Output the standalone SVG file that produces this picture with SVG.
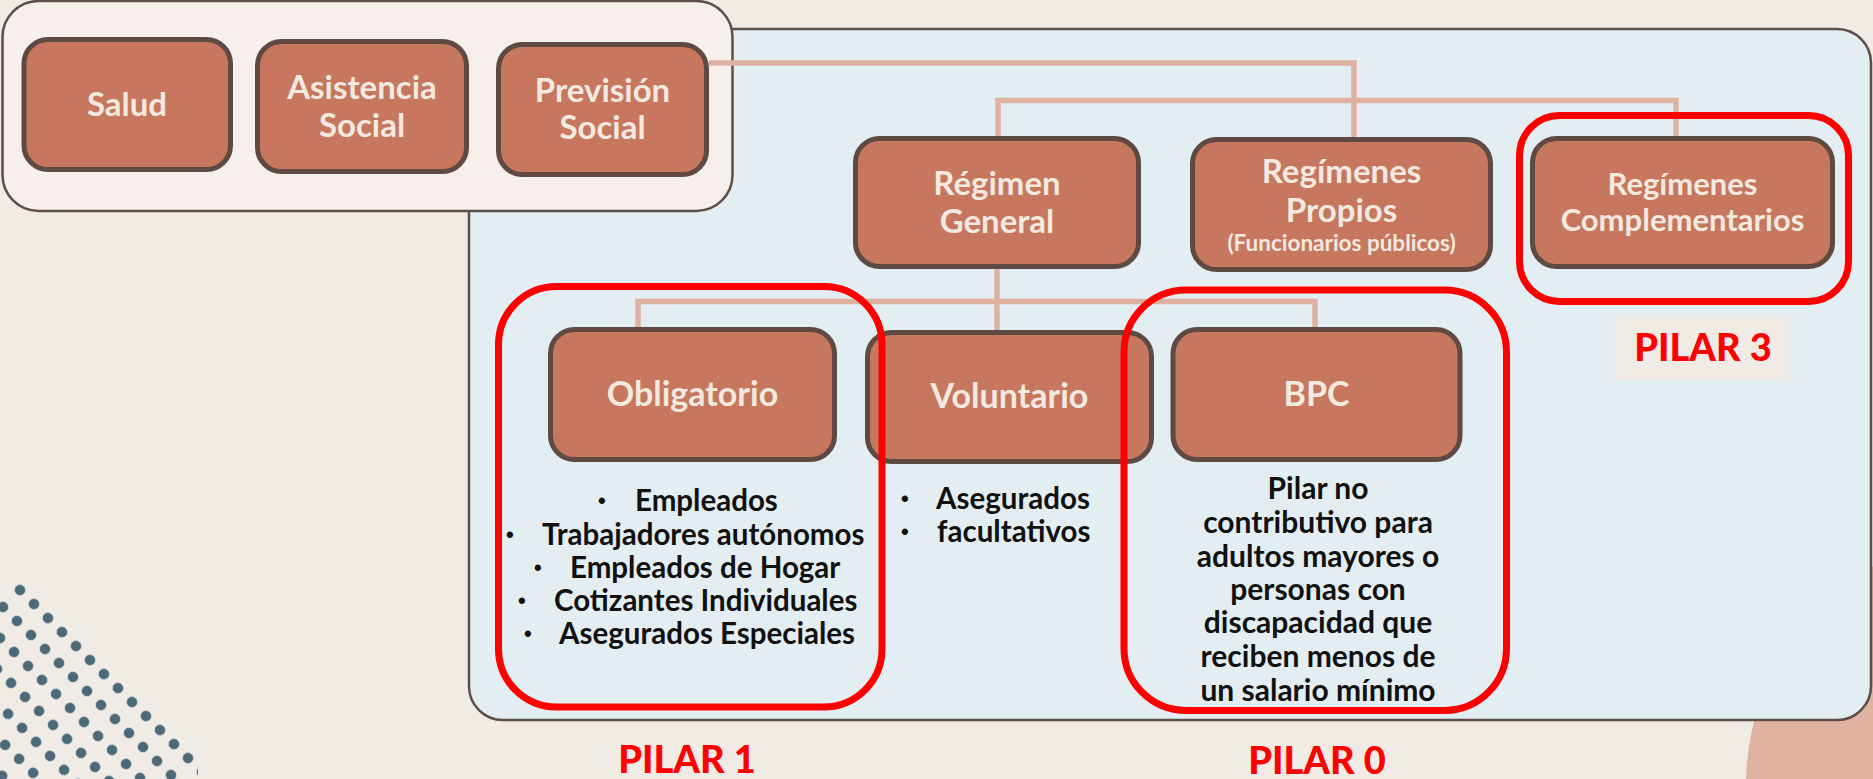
<svg xmlns="http://www.w3.org/2000/svg" width="1873" height="779" viewBox="0 0 1873 779">
<style>
.node rect{fill:#c6775d;stroke:#5e4a42;stroke-width:5}
.node text{font-family:Lato,"Open Sans",sans-serif;font-weight:700;fill:#f3e9e0;text-anchor:middle}
.conn{fill:none;stroke:#dfb1a1;stroke-width:5.5}
.pilar{fill:none;stroke:#ff0000;stroke-width:7}
.plabel{font-family:Lato,"Open Sans",sans-serif;font-weight:900;fill:#ff0000;text-anchor:middle;font-size:38px}
.list{font-family:Lato,"Open Sans",sans-serif;font-weight:700;fill:#111111;font-size:29.5px}
.bul{font-family:"Liberation Sans",Arial,sans-serif;font-weight:700;fill:#111111;font-size:22px}
.para{font-family:Lato,"Open Sans",sans-serif;font-weight:700;fill:#111111;font-size:30px;text-anchor:middle}
</style>
<defs>
<pattern id="dots" patternUnits="userSpaceOnUse" width="19.8" height="24" patternTransform="translate(20 590) rotate(45) translate(-9.9 -12)">
<circle cx="9.9" cy="12" r="5.3" fill="#4a6a7a"/>
</pattern>
<clipPath id="dotclip"><polygon points="0,583 21,583 198,760 198,779 0,779"/></clipPath>
</defs>
<rect x="0" y="0" width="1873" height="779" fill="#f0ebe5"/>
<circle cx="1998" cy="785" r="252" fill="#e0b2a0"/>
<rect x="0" y="560" width="220" height="219" fill="url(#dots)" clip-path="url(#dotclip)"/>
<g id="panel-prevision">
<rect x="469" y="29" width="1402" height="691" rx="34" fill="#e2eef2" stroke="#5e4e47" stroke-width="2.5"/>
</g>
<g id="panel-seguridad">
<rect x="2.5" y="1" width="730" height="210" rx="36" fill="#f7efec" stroke="#5e4e47" stroke-width="2.5"/>
</g>
<g id="connectors">
<polyline class="conn" points="709,63 1354,63 1354,137"/>
<polyline class="conn" points="998,137 998,100.5 1676,100.5 1676,136"/>
<line class="conn" x1="997" y1="269" x2="997" y2="330"/>
<polyline class="conn" points="638,327 638,301.5 1315,301.5 1315,327"/>
</g>
<g id="salud" class="node"><rect x="24" y="39.5" width="206.5" height="130" rx="24"/><text x="127" y="116" font-size="33">Salud</text></g>
<g id="asistencia" class="node"><rect x="257.5" y="41.5" width="209" height="130" rx="24"/><text x="362" y="99" font-size="33">Asistencia</text><text x="362" y="137" font-size="33">Social</text></g>
<g id="prevision" class="node"><rect x="498.5" y="44.5" width="208" height="130" rx="24"/><text x="602.5" y="102" font-size="33">Previsión</text><text x="602.5" y="139" font-size="33">Social</text></g>
<g id="regimen-general" class="node"><rect x="855.5" y="138.5" width="283" height="128" rx="24"/><text x="997" y="195" font-size="33">Régimen</text><text x="997" y="233" font-size="33">General</text></g>
<g id="regimenes-propios" class="node"><rect x="1192.5" y="139.5" width="298" height="130" rx="24"/><text x="1341.5" y="183" font-size="33">Regímenes</text><text x="1341.5" y="222" font-size="33">Propios</text><text x="1341.5" y="251" font-size="22.5">(Funcionarios públicos)</text></g>
<g id="regimenes-complementarios" class="node"><rect x="1532.5" y="138.5" width="300" height="128" rx="24"/><text x="1682.5" y="195" font-size="31">Regímenes</text><text x="1682.5" y="231" font-size="31">Complementarios</text></g>
<g id="obligatorio" class="node"><rect x="550.5" y="329.5" width="284" height="130" rx="24"/><text x="692.5" y="406" font-size="34">Obligatorio</text></g>
<g id="voluntario" class="node"><rect x="867.5" y="332.5" width="284" height="129" rx="24"/><text x="1009.5" y="408" font-size="34">Voluntario</text></g>
<g id="bpc" class="node"><rect x="1173" y="329.5" width="287" height="130" rx="24"/><text x="1316.5" y="406" font-size="34">BPC</text></g>
<g id="obligatorio-list">
<text class="bul" x="598" y="508">•</text><text class="list" x="635" y="511">Empleados</text>
<text class="bul" x="506" y="542">•</text><text class="list" x="542" y="545">Trabajadores autónomos</text>
<text class="bul" x="534" y="575">•</text><text class="list" x="570" y="578">Empleados de Hogar</text>
<text class="bul" x="518" y="608">•</text><text class="list" x="554" y="611">Cotizantes Individuales</text>
<text class="bul" x="524" y="641">•</text><text class="list" x="559" y="644">Asegurados Especiales</text>
</g>
<g id="voluntario-list">
<text class="bul" x="901" y="506">•</text><text class="list" x="936" y="509">Asegurados</text>
<text class="bul" x="901" y="539">•</text><text class="list" x="937" y="542">facultativos</text>
</g>
<g id="bpc-text" class="para">
<text x="1318" y="499">Pilar no</text>
<text x="1318" y="533">contributivo para</text>
<text x="1318" y="567">adultos mayores o</text>
<text x="1318" y="600">personas con</text>
<text x="1318" y="633">discapacidad que</text>
<text x="1318" y="667">reciben menos de</text>
<text x="1318" y="701">un salario mínimo</text>
</g>
<g id="pilar-1"><rect class="pilar" x="498.5" y="286.5" width="383.5" height="420.5" rx="58"/><text class="plabel" x="687" y="773">PILAR 1</text></g>
<g id="pilar-0"><rect class="pilar" x="1124" y="290" width="382.5" height="420.5" rx="62"/><text class="plabel" x="1317" y="774">PILAR 0</text></g>
<g id="pilar-3"><rect class="pilar" x="1519.5" y="115.5" width="329" height="186" rx="40"/><rect x="1616" y="317" width="174" height="63" fill="#f0ebe5"/><text class="plabel" x="1703" y="361">PILAR 3</text></g>
</svg>
